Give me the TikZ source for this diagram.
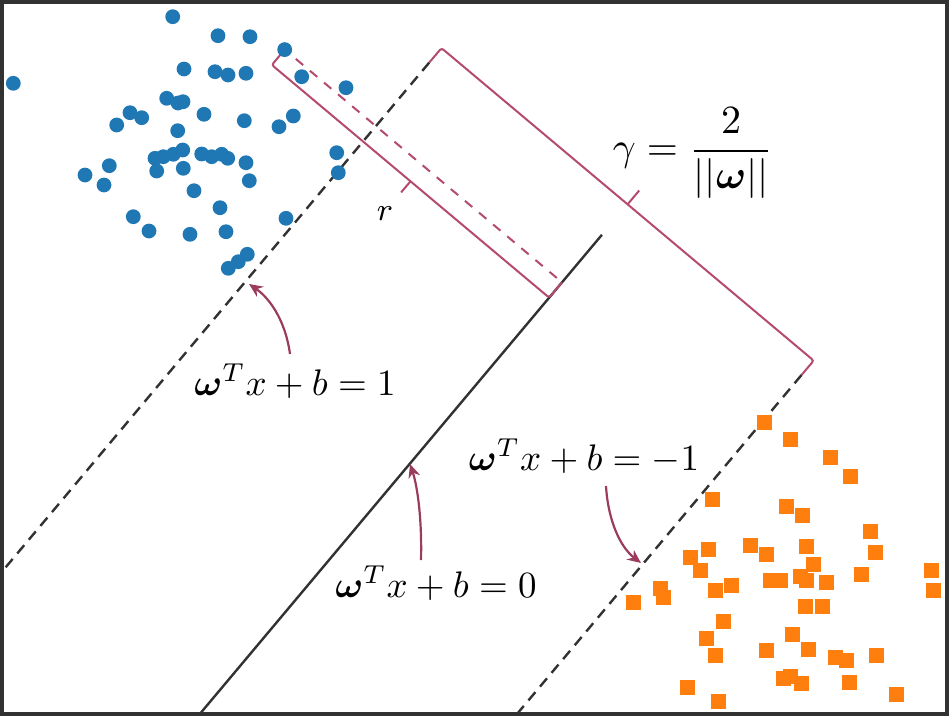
\documentclass[tikz,border=0pt]{standalone}
\usepackage{amsmath,bm}
\usetikzlibrary{arrows.meta,calc}
\definecolor{svblue}{RGB}{31,119,180}
\definecolor{svorange}{RGB}{255,127,14}
\definecolor{brk}{RGB}{180,75,110}
\definecolor{arr}{RGB}{155,60,95}
\definecolor{ln}{RGB}{50,50,50}
\newcommand{\eqtxt}[1]{\scalebox{0.925}{$#1$}}
\begin{document}
\begin{tikzpicture}[x=0.25pt,y=-0.25pt,
  hyper/.style={draw=ln,line width=0.6pt},
  margin/.style={hyper,dash pattern=on 2.7pt off 1.8pt},
  bracket/.style={draw=brk,line width=0.5pt,rounded corners=0.6pt},
  pointer/.style={draw=arr,line width=0.55pt,-{Stealth[length=3.4pt,width=3pt]}},
  lbl/.style={inner sep=0pt,font=\normalsize}]
\useasboundingbox (0,0) rectangle (950,717);
% coordinates on lines
\coordinate (ltop) at (429.2,62.6);
\coordinate (lbot) at (-6.6,581.9);
\coordinate (stop) at (601.9,234.8);
\coordinate (sbot) at (192.4,722.8);
\coordinate (rtop) at (801.5,375);
\coordinate (rbot) at (507.1,725.8);
\begin{scope}
\clip (3,3) rectangle (946,713);
\draw[margin] (ltop) -- (lbot);
\draw[hyper] (stop) -- (sbot);
\draw[margin] (rtop) -- (rbot);
\end{scope}
% big bracket
\coordinate (gl) at (441.5,48.1);
\coordinate (gr) at (813.7,360.6);
\coordinate (gm) at (627.6,204.3);
\coordinate (gt) at (639.2,190.5);
\draw[bracket] (ltop) -- (gl) -- (gr) -- (rtop);
\draw[bracket] (gm) -- (gt);
% small r bracket
\coordinate (sv) at (284.7,49.6);
\coordinate (foot) at (562,282.3);
\coordinate (rl) at (271.85,64.95);
\coordinate (rr) at (549.15,297.65);
\coordinate (rm) at (410.5,181.3);
\coordinate (rt) at (401.1,192.4);
\draw[brk,line width=0.5pt,dash pattern=on 2.4pt off 2.2pt] ($(sv)!0.04!(foot)$) -- (foot);
\draw[bracket] (sv) -- (rl) -- (rr) -- (foot);
\draw[bracket] (rm) -- (rt);
\node[lbl,font=\footnotesize] (rlabel) at (385,214) {$r$};
% blue points
\foreach \p in {(172.7,16.7),(218,35.7),(250,36.7),(284.7,49.6),(13.3,83.3),(184,69),(215,71.7),(228,75),(246,73.3),(301.7,76.7),(346,87.7),(166.7,98.3),(178,103),(183,101.7),(130,112.7),(141.7,117.7),(116.7,125),(204,114.3),(244.3,120.7),(279,126.7),(293.3,116),(177.7,130.7),(336.7,152.7),(338.3,172.7),(155,158.3),(163.3,156.7),(173.3,154.3),(182.7,150),(156.7,171),(183.3,168.3),(201.7,154),(211.7,156.7),(221.7,154.3),(227.7,158.3),(246,162.7),(249.3,180.7),(109.3,165.7),(85,175),(104,185),(194,190.7),(220,207.7),(133.3,216.7),(149,231),(190,234.3),(226,231.7),(286,218.3),(247.3,254.3),(238.3,261.7),(228.3,268.3)}
  \fill[svblue] \p circle (1.85pt);
% orange points
\foreach \p in {(764.3,422.7),(790,439.3),(830.7,457.3),(850,476.7),(712.7,499.3),(786,506),(802.7,515.7),(870,531.7),(875,552.3),(750,545),(766.7,554.3),(806.7,546.7),(813.3,564),(708.3,549.3),(690.7,557.3),(700,570.7),(660,588.3),(663.3,597.3),(633.3,602.7),(715,590.7),(731.7,585.7),(770,580),(780,580),(800,576.7),(806.7,580),(826.7,582.3),(861,574),(931.7,570.7),(933.3,590),(805,606.7),(822.7,606.7),(723.3,621.7),(706,638.3),(715,655.7),(792.7,634.3),(808.3,649),(766,650.7),(835,657.3),(846.7,660.7),(876,655.3),(783.3,678.3),(790,676.7),(801.7,683.3),(849.3,682.3),(687.3,687.3),(718.3,701.7),(896,694)}
  \fill[svorange] \p ++(-7.5,-7.5) rectangle ++(15,15);
% labels
\node[lbl] (gamma) at (693,153) {$\displaystyle \gamma=\frac{2}{||\bm{\omega}||}$};
\node[lbl] (eq1) at (295,381) {\eqtxt{\bm{\omega}^Tx+b=1}};
\node[lbl] (eqm1) at (584,456) {\eqtxt{\bm{\omega}^Tx+b=-1}};
\node[lbl] (eq0) at (436,583) {\eqtxt{\bm{\omega}^Tx+b=0}};
% pointers
\coordinate (p1) at (249,284);
\coordinate (p0) at (410,464);
\coordinate (pm1) at (641,563);
\draw[pointer] (290,354) .. controls (285,318) and (268,297) .. (p1);
\draw[pointer] (421,560) .. controls (422,522) and (418,488) .. (p0);
\draw[pointer] (606,486) .. controls (608,520) and (620,547) .. (pm1);
% frame
\draw[ln,line width=0.8pt] (2,2) rectangle (947,714);
\end{tikzpicture}
\end{document}
